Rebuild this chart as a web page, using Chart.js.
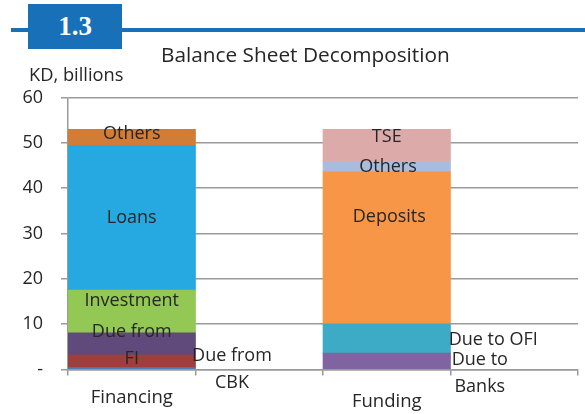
<!DOCTYPE html>
<html>
<head>
<meta charset="utf-8">
<script src="https://cdn.jsdelivr.net/npm/chart.js@4/dist/chart.umd.min.js"></script>
<style>
  html, body { margin: 0; padding: 0; background: #fff; }
  #wrap { position: relative; width: 585px; height: 414px; overflow: hidden; font-family: "Open Sans", sans-serif; }
  #rule { position: absolute; left: 11px; top: 28px; width: 574px; height: 4px; background: #1770b8; }
  #badge { position: absolute; left: 28px; top: 4px; width: 94px; height: 45px; background: #1770b8; color: #fff;
           font-family: "Liberation Serif", "DejaVu Serif", serif; font-weight: bold; font-size: 27px;
           display: flex; align-items: center; justify-content: center; }
  #title { position: absolute; left: 161px; top: 63.3px; font-size: 20.8px; line-height: 1; color: #262626; white-space: nowrap; transform: translateY(-0.89em); }
  #unit { position: absolute; left: 29px; top: 80.5px; font-size: 18.3px; line-height: 1; color: #262626; white-space: nowrap; transform: translateY(-0.89em); }
  canvas { position: absolute; left: 0; top: 0; }
</style>
</head>
<body>
<div id="wrap">
  <canvas id="c" width="585" height="414"></canvas>
  <div id="rule"></div>
  <div id="badge">1.3</div>
  <div id="title">Balance Sheet Decomposition</div>
  <div id="unit">KD, billions</div>
</div>
<script>
// Categories (x axis); empty slots give the spacing seen in the reference
const categories = ["Financing", "", "Funding", ""];
const yTicks = [0, 10, 20, 30, 40, 50, 60];
const yTickLabels = ["-", "10", "20", "30", "40", "50", "60"];

// Financing side segments (KD billions), bottom to top
const finSeries = ["Due from CBK", "CBK red", "Due from FI", "Investment", "Loans", "Others (fin)"];
const finValues = [0.4, 2.8, 4.9, 9.4, 31.9, 3.6];
const finColors = ["#4a7ebb", "#9e3f3c", "#604a7b", "#92c853", "#25a9e0", "#d17c37"];

// Funding side segments, bottom to top
const fundSeries = ["Due to Banks", "Due to OFI", "Deposits", "Others (fund)", "TSE"];
const fundValues = [3.6, 6.5, 33.5, 2.3, 7.1];
const fundColors = ["#8064a2", "#3daac6", "#f79646", "#aabbdb", "#dbaaa9"];

// Segment labels: [category position, value position, lines, align]
const segLabels = [
  [0, 52.0, ["Others"], "center"],
  [0, 33.5, ["Loans"], "center"],
  [0, 15.1, ["Investment"], "center"],
  [0, 5.4, ["Due from", "FI"], "center"],
  [0.786, 0.0, ["Due from", "CBK"], "center"],
  [2, 51.3, ["TSE"], "center"],
  [2.01, 44.6, ["Others"], "center"],
  [2.02, 33.7, ["Deposits"], "center"],
  [2.835, 6.5, ["Due to OFI"], "center"],
  [2.73, -0.8, ["Due to", "Banks"], "center"]
];

const datasets = [];
finSeries.forEach((s, i) => datasets.push({
  label: s, data: [finValues[i], null, null, null], backgroundColor: finColors[i], stack: "s"
}));
fundSeries.forEach((s, i) => datasets.push({
  label: s, data: [null, null, fundValues[i], null], backgroundColor: fundColors[i], stack: "s"
}));

const labelPlugin = {
  id: "segLabels",
  afterDatasetsDraw(chart) {
    const ctx = chart.ctx, xs = chart.scales.x, ys = chart.scales.y;
    ctx.save();
    ctx.font = '18px "Open Sans"';
    ctx.fillStyle = "#262626";
    ctx.textBaseline = "middle";
    const lh = 27;
    segLabels.forEach(([cx, v, lines, align]) => {
      const x = xs.getPixelForValue(cx);
      const yc = ys.getPixelForValue(v);
      ctx.textAlign = align;
      lines.forEach((t, k) => {
        ctx.fillText(t, x, yc + (k - (lines.length - 1) / 2) * lh);
      });
    });
    ctx.restore();
  }
};

new Chart(document.getElementById("c"), {
  type: "bar",
  data: { labels: categories, datasets },
  plugins: [labelPlugin],
  options: {
    responsive: false,
    animation: false,
    layout: { padding: { top: 97.5, right: 7, left: 0, bottom: 0 } },
    plugins: { legend: { display: false }, tooltip: { enabled: false }, title: { display: false } },
    datasets: { bar: { categoryPercentage: 1, barPercentage: 1, borderWidth: 0 } },
    scales: {
      x: {
        stacked: true,
        offset: true,
        afterFit(scale) { scale.height = 44.5; },
        grid: { offset: true, drawOnChartArea: false, drawTicks: true, tickLength: 6, color: "#9a9a9a", lineWidth: 1.5 },
        border: { color: "#9a9a9a", width: 1.5 },
        ticks: {
          color: "#262626",
          font: (ctx) => ({ family: "Open Sans", size: 18.5, lineHeight: ctx.index === 2 ? 1.68 : 1.2 }),
          padding: 10.7,
          maxRotation: 0, autoSkip: false
        }
      },
      y: {
        stacked: true,
        min: 0, max: 60,
        afterBuildTicks(scale) { scale.ticks = yTicks.map(v => ({ value: v })); },
        afterFit(scale) { scale.width = 68; },
        grid: { color: "#9a9a9a", lineWidth: 1.5, drawTicks: true, tickLength: 7 },
        border: { color: "#9a9a9a", width: 1.5 },
        ticks: {
          color: "#262626",
          font: { family: "Open Sans", size: 18 },
          padding: 18,
          callback: (v) => yTickLabels[yTicks.indexOf(v)]
        }
      }
    }
  }
});
</script>
</body>
</html>
